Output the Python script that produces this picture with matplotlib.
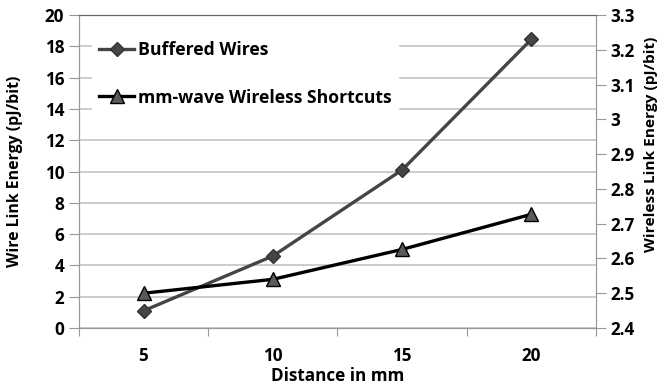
import matplotlib.pyplot as plt

plt.rcParams['font.family'] = ['Open Sans', 'DejaVu Sans']
plt.rcParams['font.weight'] = 'bold'

distances = ['5', '10', '15', '20']
wire_energy = [1.1, 4.6, 10.1, 18.45]
wireless_energy = [2.50, 2.54, 2.626, 2.727]

fig = plt.figure(figsize=(6.63, 3.85), dpi=100)
ax = fig.add_axes([0.119, 0.148, 0.78, 0.813])
ax2 = ax.twinx()

x = list(range(len(distances)))
l1, = ax.plot(x, wire_energy, color='#454545', lw=2.4, marker='D', ms=7,
              mfc='#454545', mec='#333333', label='Buffered Wires', zorder=3)
l2, = ax2.plot(x, wireless_energy, color='black', lw=2.4, marker='^', ms=10,
               mfc='#5a5a5a', mec='black', mew=1, label='mm-wave Wireless Shortcuts', zorder=3)

ax.set_xlim(-0.5, len(distances) - 0.5)
ax.set_ylim(0, 20)
ax.set_yticks(range(0, 21, 2))
ax2.set_ylim(2.4, 3.3)
ax2.set_yticks([2.4 + 0.1 * i for i in range(10)])
ax2.set_yticklabels(['2.4', '2.5', '2.6', '2.7', '2.8', '2.9', '3', '3.1', '3.2', '3.3'])

ax.set_xticks([i - 0.5 for i in range(len(distances) + 1)])
ax.set_xticklabels([])
ax.set_xticks(x, minor=True)
ax.set_xticklabels(distances, minor=True)
ax.tick_params(axis='x', which='minor', length=0, pad=14, labelsize=12.3)
ax.tick_params(axis='x', which='major', length=6, color='#999999')
ax.tick_params(axis='y', length=7, color='#999999', labelsize=12.3)
ax2.tick_params(axis='y', length=7, color='#999999', labelsize=12.3)

ax.grid(axis='y', color='#c4c4c4', lw=1.2)
ax.set_axisbelow(True)
for a in (ax, ax2):
    for s in a.spines.values():
        s.set_color('#999999')
    a.spines['top'].set_color('#666666')

ax.set_xlabel('Distance in mm', fontsize=12.3, fontweight='bold', labelpad=1)
ax.set_ylabel('Wire Link Energy (pJ/bit)', fontsize=11.4, fontweight='bold')
ax.yaxis.set_label_coords(-0.108, 0.5)
ax2.set_ylabel('Wireless Link Energy (pJ/bit)', fontsize=11.1, fontweight='bold')
ax2.yaxis.set_label_coords(1.093, 0.588)

leg = ax2.legend(handles=[l1, l2], loc='upper left', bbox_to_anchor=(0.015, 0.955),
                 frameon=True, fancybox=False, edgecolor='white', facecolor='white',
                 framealpha=1, fontsize=12.7, labelspacing=1.65, handlelength=2.0,
                 handletextpad=0.2, borderaxespad=0.3)
for t in leg.get_texts():
    t.set_fontweight('bold')

fig.savefig('out.png', dpi=100)
